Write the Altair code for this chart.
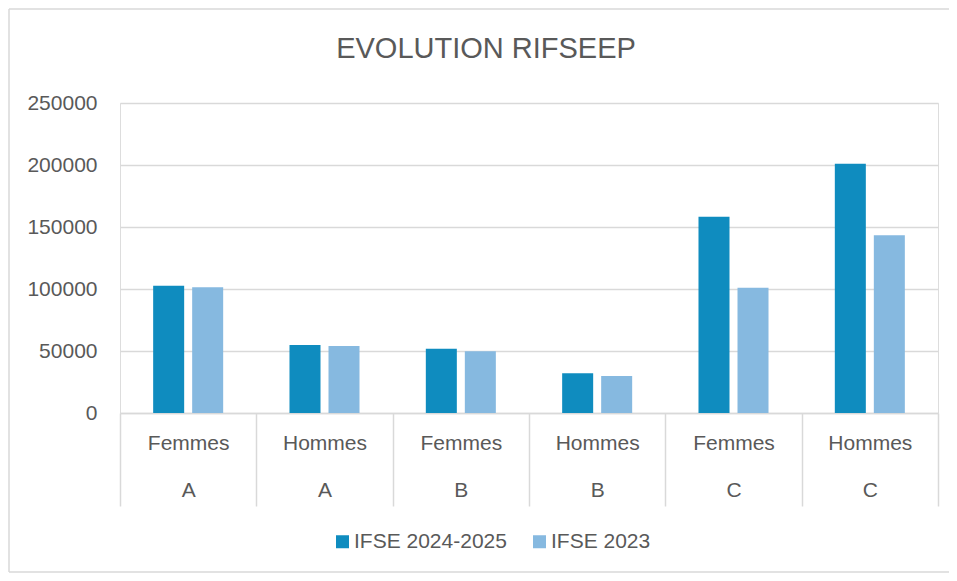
import altair as alt
import pandas as pd

# ---- data ----
sexes = ["Femmes", "Hommes", "Femmes", "Hommes", "Femmes", "Hommes"]
groups = ["A", "A", "B", "B", "C", "C"]
ifse_2024_2025 = [102700, 54800, 51900, 32000, 158300, 201000]
ifse_2023 = [101400, 54000, 49700, 29800, 101000, 143300]
series_names = ["IFSE 2024-2025", "IFSE 2023"]
series_colors = ["#0F8CBF", "#86B9E0"]
y_ticks = [0, 50000, 100000, 150000, 200000, 250000]

keys = [f"{s}|{g}" for s, g in zip(sexes, groups)]
rows = []
for k, v1, v2 in zip(keys, ifse_2024_2025, ifse_2023):
    rows.append({"cat": k, "serie": series_names[0], "val": v1})
    rows.append({"cat": k, "serie": series_names[1], "val": v2})
df = pd.DataFrame(rows)

FONT = "Liberation Sans"
TXT = "#595959"
GRID = "#D9D9D9"

bars = alt.Chart(df).mark_bar().encode(
    x=alt.X("cat:N", sort=keys, title=None,
            scale=alt.Scale(paddingInner=0, paddingOuter=0),
            axis=alt.Axis(labelExpr="isValid(datum.value) ? split(datum.value, '|') : ''",
                          labelAngle=0,
                          labelFontSize=21, labelColor=TXT, labelFont=FONT,
                          labelLineHeight=47, labelBaseline="middle",
                          tickBand="extent", tickSize=93, tickColor=GRID, tickWidth=1.5,
                          labelPadding=-63, domainColor=GRID, domainWidth=1.5,
                          grid=False)),
    xOffset=alt.XOffset("serie:N", sort=series_names,
                        scale=alt.Scale(paddingInner=0.205, paddingOuter=0.85)),
    y=alt.Y("val:Q", title=None,
            scale=alt.Scale(domain=[0, 250000], nice=False),
            axis=alt.Axis(values=y_ticks, format="d", ticks=False, domain=False,
                          labelFontSize=21, labelColor=TXT, labelFont=FONT,
                          labelPadding=23, gridColor=GRID, gridWidth=1.5)),
    color=alt.Color("serie:N", sort=series_names, title=None,
                    scale=alt.Scale(domain=series_names, range=series_colors),
                    legend=alt.Legend(orient="none", direction="horizontal",
                                      legendX=212, legendY=428,
                                      symbolType="square", symbolSize=169,
                                      symbolStrokeWidth=0, labelFontSize=21,
                                      labelFont=FONT, labelColor=TXT,
                                      labelOffset=1, columnPadding=22)),
)

one = pd.DataFrame({"a": [0]})
frame_top = alt.Chart(one).mark_rule(color=GRID, strokeWidth=1.5).encode(
    x=alt.value(-111), x2=alt.value(1400), y=alt.value(-94), y2=alt.value(-94))
frame_left = alt.Chart(one).mark_rule(color=GRID, strokeWidth=1.5).encode(
    x=alt.value(-111), x2=alt.value(-111), y=alt.value(-94), y2=alt.value(469))
frame_bottom = alt.Chart(one).mark_rule(color=GRID, strokeWidth=1.5).encode(
    x=alt.value(-111), x2=alt.value(1400), y=alt.value(469), y2=alt.value(469))

chart = alt.layer(frame_top, frame_left, frame_bottom, bars).properties(
    width=818, height=310,
    autosize=alt.AutoSizeParams(type="none"),
    padding={"left": 112, "top": 95, "right": 11, "bottom": 160},
    title=alt.Title("EVOLUTION RIFSEEP", fontSize=29, font=FONT, color=TXT,
                    fontWeight="normal", anchor="middle", baseline="alphabetic",
                    dx=-43, dy=79, offset=0),
).configure_view(stroke=None).configure(background="white")

chart.save("out.html", embed_options={"renderer": "svg", "actions": False})
